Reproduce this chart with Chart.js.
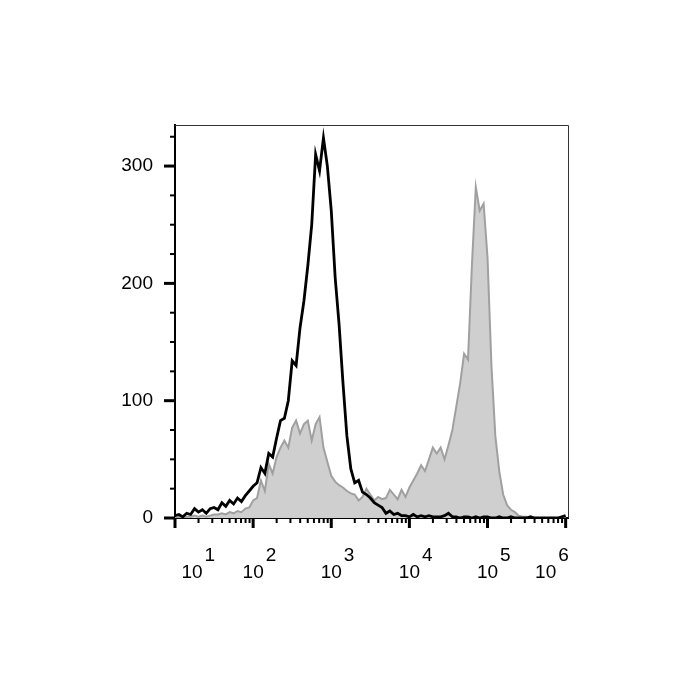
<!DOCTYPE html>
<html><head><meta charset="utf-8">
<script src="https://cdn.jsdelivr.net/npm/chart.js@4.4.1/dist/chart.umd.min.js"></script>
<style>html,body{margin:0;padding:0;background:#fff}#wrap{width:700px;height:700px}</style>
</head><body><div id="wrap"><canvas id="c" width="700" height="700"></canvas></div>
<script>
// Bin centres in log10 units (10^1 ... 10^6)
const logBins = [
1.00,1.05,1.10,1.15,1.20,1.25,1.30,1.35,1.40,1.45,
1.50,1.55,1.60,1.65,1.70,1.75,1.80,1.85,1.90,1.95,
2.00,2.05,2.10,2.15,2.20,2.25,2.30,2.35,2.40,2.45,
2.50,2.55,2.60,2.65,2.70,2.75,2.80,2.85,2.90,2.95,
3.00,3.05,3.10,3.15,3.20,3.25,3.30,3.35,3.40,3.45,
3.50,3.55,3.60,3.65,3.70,3.75,3.80,3.85,3.90,3.95,
4.00,4.05,4.10,4.15,4.20,4.25,4.30,4.35,4.40,4.45,
4.50,4.55,4.60,4.65,4.70,4.75,4.80,4.85,4.90,4.95,
5.00,5.05,5.10,5.15,5.20,5.25,5.30,5.35,5.40,5.45,
5.50,5.55,5.60,5.65,5.70,5.75,5.80,5.85,5.90,5.95,
6.00];
// Black open histogram (counts)
const blackCounts = [
2,3,1,4,3,8,5,7,4,8,
9,7,13,10,15,12,17,14,19,23,
27,30,43,38,55,52,68,83,85,100,
134,130,162,185,215,250,310,296,324,300,
262,205,165,115,70,42,30,32,22,20,
17,13,11,9,4,6,3,4,2,2,
1,3,1,2,1,2,1,1,1,2,
4,1,1,0,1,1,0,1,0,1,
1,0,0,1,0,0,1,0,0,0,
0,1,0,0,0,0,0,0,0,1,
2];
// Gray filled histogram (counts)
const grayCounts = [
0,1,0,1,1,2,1,2,1,2,
3,3,4,3,5,4,6,5,8,9,
15,17,32,23,46,38,52,60,66,60,
77,83,72,80,83,66,80,86,60,48,
36,31,28,26,23,21,20,15,18,25,
20,15,18,16,17,24,20,16,24,18,
26,32,38,45,40,50,60,55,60,50,
62,75,95,115,140,135,215,282,262,268,
222,130,70,40,20,11,7,5,2,1,
1,0,0,0,0,0,0,0,0,0,
0];
const xTickExponents = [1,2,3,4,5,6];
const yTickValues = [0,100,200,300];
const yMinorStep = 25;

const FONT = "'Liberation Sans', Arial, sans-serif";

const tickPlugin = {
  id: 'ticksAndFrame',
  afterDraw(chart) {
    const ctx = chart.ctx, ca = chart.chartArea;
    const xs = chart.scales.x, ys = chart.scales.y;
    ctx.save();
    // top & right frame
    ctx.strokeStyle = '#333'; ctx.lineWidth = 1;
    ctx.beginPath();
    ctx.moveTo(ca.left, ca.top + 0.5); ctx.lineTo(ca.right + 0.5, ca.top + 0.5);
    ctx.lineTo(ca.right + 0.5, ca.bottom);
    ctx.stroke();
    ctx.strokeStyle = '#000';
    // y ticks
    for (let v = 0; v <= ys.max; v += yMinorStep) {
      const py = ys.getPixelForValue(v);
      const major = yTickValues.includes(v);
      ctx.lineWidth = major ? 3 : 2;
      ctx.beginPath();
      ctx.moveTo(ca.left, py); ctx.lineTo(ca.left - (major ? 11 : 5), py);
      ctx.stroke();
    }
    // x ticks
    for (const n of xTickExponents) {
      const px = xs.getPixelForValue(n);
      ctx.lineWidth = 3;
      ctx.beginPath(); ctx.moveTo(px, ca.bottom); ctx.lineTo(px, ca.bottom + 10); ctx.stroke();
      if (n < xTickExponents[xTickExponents.length - 1]) {
        for (let k = 2; k <= 9; k++) {
          const mx = xs.getPixelForValue(n + Math.log10(k));
          ctx.lineWidth = 2;
          ctx.beginPath(); ctx.moveTo(mx, ca.bottom); ctx.lineTo(mx, ca.bottom + 5); ctx.stroke();
        }
      }
    }
    // x labels 10^n
    ctx.fillStyle = '#000';
    ctx.textBaseline = 'alphabetic';
    for (const n of xTickExponents) {
      const px = xs.getPixelForValue(n);
      let shift = 0;
      if (n === xTickExponents[0]) shift = 17;
      if (n === xTickExponents[xTickExponents.length - 1]) shift = -20;
      ctx.font = '19px ' + FONT;
      ctx.textAlign = 'center';
      const cx = px + shift;
      ctx.fillText('10', cx, 578);
      const w = ctx.measureText('10').width;
      ctx.textAlign = 'left';
      ctx.fillText(String(n), cx + w / 2 + 2, 561);
    }
    ctx.restore();
  }
};

new Chart(document.getElementById('c'), {
  type: 'line',
  data: {
    datasets: [
      {
        label: 'black',
        data: logBins.map((x, i) => ({ x, y: blackCounts[i] })),
        borderColor: '#000',
        borderWidth: 2.8,
        fill: false,
        pointRadius: 0,
        tension: 0
      },
      {
        label: 'gray',
        data: logBins.map((x, i) => ({ x, y: grayCounts[i] })),
        borderColor: '#a0a0a0',
        backgroundColor: '#cfcfcf',
        borderWidth: 2,
        fill: 'origin',
        pointRadius: 0,
        tension: 0
      }
    ]
  },
  options: {
    responsive: false,
    animation: false,
    layout: { padding: { left: 0, top: 125, right: 132, bottom: 0 } },
    plugins: { legend: { display: false }, tooltip: { enabled: false } },
    scales: {
      x: {
        type: 'linear', min: 1, max: 6.03,
        grid: { display: false, drawTicks: false },
        border: { display: true, color: '#000', width: 2 },
        ticks: { display: false },
        afterFit(s) { s.height = 182; }
      },
      y: {
        type: 'linear', min: 0, max: 335,
        grid: { display: false, drawTicks: false },
        border: { display: true, color: '#000', width: 2 },
        ticks: {
          stepSize: 100, padding: 22, color: '#000',
          font: { family: FONT, size: 19 },
          callback: v => yTickValues.includes(v) ? String(v) : ''
        },
        afterFit(s) { s.width = 175; }
      }
    }
  },
  plugins: [tickPlugin]
});
</script>
</body></html>
